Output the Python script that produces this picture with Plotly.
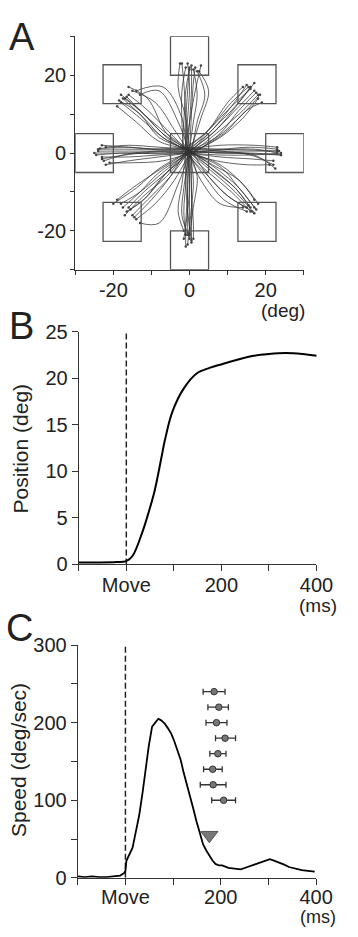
import plotly.graph_objects as go

# ---------------- Panel A data (deg) ----------------
target_x = [0, 0, 17.7, 25, 17.7, 0, -17.7, -25, -17.7]
target_y = [0, 25, 17.7, 0, -17.7, -25, -17.7, 0, 17.7]
target_half = 5

traj_up_x = [[-1, -1, -0.5, 0], [-0.5, 0, 0.5, 0.5], [0, 1, 2, 1], [0.5, 2, 4, 2], [-1.5, -2, -2, -1],
             [0, 3, 5, 2.5], [-0.5, -1, -1.5, -2], [0, 0.5, 1, 1.5], [-1, -0.5, 0, -0.5],
             [-2, -1.5, -1, 0], [-1, 0, 1.5, 3], [0, -1, -3, -2.5]]
traj_up_y = [[0, 8, 16, 22], [0.5, 8, 16, 22.5], [1, 8, 15, 21.5], [0, 8, 15, 21], [0.5, 8, 16, 22],
             [0, 9, 16, 21], [1, 10, 18, 23], [0, 10, 18, 22], [1.5, 9, 17, 23],
             [0, 8, 16, 21.5], [1, 8, 16, 22.5], [0.5, 9, 17, 23]]
traj_ur_x = [[0, 6, 12, 16], [0, 6, 12, 17], [0.5, 7, 13, 18], [-0.5, 5, 11, 15], [0, 8, 14, 18],
             [-1, 5, 10, 14], [0, 7, 13, 17], [0.5, 9, 15, 19], [-1, 4, 10, 16], [0, 6, 11, 15.5],
             [1, 8, 13, 17.5], [-0.5, 7, 14, 18.5]]
traj_ur_y = [[0, 6, 12, 17], [0.5, 5, 11, 16], [0, 5, 10, 15], [1, 5, 12, 17.5], [0, 4, 9, 14],
             [1, 6, 13, 17], [0.5, 6, 13, 18], [0, 5, 11, 13], [1.5, 5, 11, 16.5], [0.5, 7, 13, 17],
             [0, 5, 11, 15.5], [0.5, 4, 10, 15]]
traj_r_x = [[0, 8, 16, 23], [0, 8, 16, 24], [0, 8, 16, 23], [0, 8, 16, 22], [0, 8, 16, 24],
            [0, 7, 15, 21], [0, 8, 17, 23], [0, 8, 17, 22.5], [-1, 7, 15, 23.5], [0.5, 9, 17, 24],
            [-0.5, 8, 16, 22], [0, 8, 17, 23]]
traj_r_y = [[0.5, 0.5, 0.5, 0.5], [0, -0.5, -0.5, 0], [1, 1, 1.5, 1], [0, -1, -1.5, -2], [0.5, 0, 0, -0.5],
            [0, -2, -3, -3], [1, 2, 2, 1.5], [0, 0.2, -0.5, -4], [1.5, 1, 0.8, 0.5], [0.5, 0, -0.2, -0.5],
            [1, 0.5, -0.5, -3], [0, 0.8, 1, 0]]
traj_lr_x = [[0, 6, 12, 16], [0, 7, 13, 17], [0, 5, 11, 16], [0.5, 8, 14, 18], [-0.5, 4, 9, 15],
             [0, 6, 13, 17], [0, 5, 12, 17], [0, 3, 8, 14], [1, 7, 12, 15.5], [-1, 4, 10, 16.5],
             [0, 8, 13, 17.5], [0.5, 5, 10, 15]]
traj_lr_y = [[0, -4, -9, -14], [0.5, -4, -9, -14], [-0.5, -5, -10, -15], [0, -3, -8, -13], [0, -6, -12, -15],
             [0.5, -3, -7, -12], [0, -4, -10, -15.5], [-0.5, -7, -13, -14], [0, -5, -9, -13.5],
             [0, -5, -11, -15], [0, -3.5, -9, -14.5], [0.5, -6, -11, -14]]
traj_d_x = [[0, -0.5, -0.5, -0.5], [0, 0, 0, 0], [-0.5, -1, -1.5, -1], [0, 0.5, 0.5, 0.5], [-1, -2, -3, -1.5],
            [0, 2, 1, 0], [-0.5, -0.5, -1, -1], [0.5, 0.5, 1, 1], [-1, -1, -0.5, 0.5], [0, -1.5, -2, -0.5],
            [-0.5, 0, -0.5, -1.5], [0, 1, 0.5, -0.5]]
traj_d_y = [[0, -8, -16, -21], [0, -8, -16, -22], [0.5, -8, -15, -21], [0, -8, -16, -23], [0.5, -8, -15, -20],
            [0, -6, -14, -21], [1, -10, -18, -24], [0, -10, -18, -22], [0.5, -7, -15, -22.5],
            [0, -9, -16, -20.5], [0, -8, -15, -22], [0.5, -7, -14, -23.5]]
traj_ll_x = [[0, -6, -12, -16], [0, -7, -13, -18], [-0.5, -5, -11, -15], [0, -8, -14, -20], [0, -4, -9, -14],
             [0, -3, -8, -13], [-0.5, -6, -12, -17], [0, -9, -15, -19], [-1, -6, -11, -15.5],
             [0, -7, -12, -16.5], [-1, -5, -10, -14.5], [0, -8, -13, -17.5]]
traj_ll_y = [[0, -5, -10, -14], [0.5, -5, -10, -13], [0, -6, -12, -16], [0.5, -4, -9, -13], [0, -7, -13, -17],
             [0, -8, -18, -18], [0.5, -6, -11, -16], [0.5, -5, -9, -12], [0, -5, -11, -14.5],
             [0, -6, -12, -15], [0.5, -6, -12, -16.5], [0, -5, -10, -14]]
traj_l_x = [[0, -8, -16, -24], [0, -8, -16, -23], [0, -8, -16, -23], [0, -8, -16, -22], [0, -8, -16, -25],
            [0, -8, -17, -23], [0, -8, -16, -22], [0, -7, -15, -21], [-1, -9, -17, -24], [0, -8, -16, -22.5],
            [0.5, -8, -17, -24.5], [-0.5, -8, -16, -23.5]]
traj_l_y = [[0.5, 0.5, 0.5, 0.5], [0, -0.5, -1, -1], [1, 1, 1.5, 2], [0, -1, -2, -3], [0.5, 0, 0, 0],
            [0, 0.3, -0.5, -1.5], [1, 1.5, 2, 1.5], [0, -2, -2.5, -2.5], [1.5, 1, 1, 1], [0.5, 0.5, -0.2, -2],
            [0, -0.2, 0, -0.5], [1, 0.8, 1.5, 1.2]]
traj_ul_x = [[0, -6, -12, -17], [0, -7, -13, -18], [-0.5, -5, -11, -16], [0, -8, -14, -19], [0, -4, -9, -15],
             [0, -6, -11, -16], [-0.5, -7, -13, -18], [0, -3, -8, -13], [-1, -6, -12, -16.5],
             [0, -7, -12, -17.5], [-1, -2, -7, -14], [0, -8, -13, -18.5]]
traj_ul_y = [[0, 4, 10, 14], [0.5, 4, 9, 13], [0.5, 5, 11, 15], [1, 3, 8, 12], [0, 6, 13, 16],
             [0.5, 5, 14, 17], [1, 5, 11, 15], [0, 8, 16, 15], [1.5, 5, 10, 14.5], [0.5, 4, 9, 14],
             [0, 9, 17, 16], [1, 4, 10, 13.5]]

# ---------------- Panel B data ----------------
time_b = [-100, -60, -20, 0, 13, 34, 47, 60, 74, 81, 97, 121, 148, 175, 201, 235, 268, 300, 336, 370, 401]
pos_b = [0.2, 0.2, 0.25, 0.35, 0.9, 3.5, 5.6, 8, 11.5, 13.3, 16.4, 18.9, 20.5, 21.1, 21.5, 22.0, 22.4,
         22.6, 22.7, 22.6, 22.4]

# ---------------- Panel C data ----------------
time_c = [-100, -85, -70, -55, -40, -25, -11, -3, 0, 2, 8, 15, 22, 29, 36, 42, 49, 56, 62, 69,
          75, 82, 89, 96, 102, 109, 116, 122, 129, 136, 142, 149, 156, 163, 170, 176, 183, 189, 196, 203,
          216, 229, 242, 256, 266, 276, 290, 303, 313, 323, 333, 343, 356, 370, 383, 397]
speed_c = [2, 1, 2, 1, 1, 2, 3, 6, 9, 22, 30, 39, 60, 81, 110, 140, 170, 195, 200, 205,
           203, 199, 193, 186, 177, 165, 152, 136, 121, 106, 90, 73, 58, 43, 35, 29, 22, 18, 16, 16,
           13, 12, 11, 14, 16, 18, 21, 24, 22, 20, 17, 14, 12, 10, 9, 8]
eb_x = [186, 196, 191, 209, 194, 183, 184, 206]
eb_y = [240, 220, 200, 180, 160, 140, 120, 100]
eb_minus = [23, 23, 22, 20, 17, 19, 27, 25]
eb_plus = [23, 20, 22, 22, 17, 20, 27, 25]
tri_x = [176]
tri_y = [55]

move_x = [0, 0]
move_b_y = [0, 25]
move_c_y = [0, 300]

FONT = "Liberation Sans, Arial, sans-serif"
AX = "#333333"

fig = go.Figure()

# Panel A trajectories
all_x = [traj_up_x, traj_ur_x, traj_r_x, traj_lr_x, traj_d_x, traj_ll_x, traj_l_x, traj_ul_x]
all_y = [traj_up_y, traj_ur_y, traj_r_y, traj_lr_y, traj_d_y, traj_ll_y, traj_l_y, traj_ul_y]
for gx, gy in zip(all_x, all_y):
    for tx, ty in zip(gx, gy):
        fig.add_trace(go.Scatter(x=tx, y=ty, mode="lines", xaxis="x", yaxis="y",
                                 line=dict(color="rgba(50,50,50,0.75)", width=1.0, shape="spline"),
                                 showlegend=False, hoverinfo="skip"))
        fig.add_trace(go.Scatter(x=[tx[-1]], y=[ty[-1]], mode="markers", xaxis="x", yaxis="y",
                                 marker=dict(color="#444", size=2.5),
                                 showlegend=False, hoverinfo="skip"))

# Targets as squares
for cx, cy in zip(target_x, target_y):
    fig.add_shape(type="rect", xref="x", yref="y",
                  x0=cx - target_half, x1=cx + target_half,
                  y0=cy - target_half, y1=cy + target_half,
                  line=dict(color="#555", width=1.3), fillcolor="rgba(0,0,0,0)")

# Panel B
fig.add_trace(go.Scatter(x=move_x, y=move_b_y, mode="lines", xaxis="x2", yaxis="y2",
                         line=dict(color="#222", width=1.5, dash="6px,3px"), showlegend=False))
fig.add_trace(go.Scatter(x=time_b, y=pos_b, mode="lines", xaxis="x2", yaxis="y2",
                         line=dict(color="black", width=2, shape="spline"), showlegend=False))

# Panel C
fig.add_trace(go.Scatter(x=move_x, y=move_c_y, mode="lines", xaxis="x3", yaxis="y3",
                         line=dict(color="#222", width=1.5, dash="6px,3px"), showlegend=False))
fig.add_trace(go.Scatter(x=time_c, y=speed_c, mode="lines", xaxis="x3", yaxis="y3",
                         line=dict(color="black", width=1.8), showlegend=False))
fig.add_trace(go.Scatter(x=eb_x, y=eb_y, mode="markers", xaxis="x3", yaxis="y3",
                         marker=dict(color="#777", size=6.5, line=dict(color="#333", width=1)),
                         error_x=dict(type="data", array=eb_plus, arrayminus=eb_minus,
                                      color="#333", thickness=1.3, width=3),
                         showlegend=False))
fig.add_trace(go.Scatter(x=tri_x, y=tri_y, mode="markers", xaxis="x3", yaxis="y3",
                         marker=dict(symbol="triangle-down", color="#777", size=15,
                                     line=dict(color="#555", width=1)),
                         showlegend=False))

axis_common = dict(showline=True, linecolor=AX, linewidth=1.2, ticks="outside",
                   tickcolor=AX, tickwidth=1.2, showgrid=False, zeroline=False,
                   tickfont=dict(family=FONT, size=20, color="#222"), fixedrange=True)

fig.update_layout(
    width=358, height=937, margin=dict(l=0, r=0, t=0, b=0),
    paper_bgcolor="white", plot_bgcolor="white", showlegend=False,
    xaxis=dict(domain=[0.2207, 0.891], range=[-30, 30], anchor="y",
               tickvals=[-30, -20, -10, 0, 10, 20, 30], ticklabelstandoff=-2,
               ticktext=["", "-20", "", "0", "", "20", ""], ticklen=4, **axis_common),
    yaxis=dict(domain=[0.7172, 0.9723], range=[-30, 30], anchor="x",
               tickvals=[-30, -20, -10, 0, 10, 20, 30],
               ticktext=["", "-20", "", "0", "", "20", ""], ticklen=4, **axis_common),
    xaxis2=dict(domain=[0.231, 0.928], range=[-100, 400], anchor="y2",
                tickvals=[-100, 0, 100, 200, 300, 400], ticklabelstandoff=-3,
                ticktext=["", "Move", "", "200", "", "400"], ticklen=6, **axis_common),
    yaxis2=dict(domain=[0.3952, 0.6496], range=[0, 25], anchor="x2",
                tickvals=[0, 5, 10, 15, 20, 25], ticklen=6, **axis_common),
    xaxis3=dict(domain=[0.228, 0.927], range=[-100, 400], anchor="y3",
                tickvals=[-100, 0, 100, 200, 300, 400], ticklabelstandoff=-5,
                ticktext=["", "Move", "", "200", "", "400"], ticklen=6, **axis_common),
    yaxis3=dict(domain=[0.0526, 0.3070], range=[0, 300], anchor="x3",
                tickvals=[0, 50, 100, 150, 200, 250, 300],
                ticktext=["0", "", "100", "", "200", "", "300"], ticklen=6, **axis_common),
)

def ann(text, px, py, size, angle=0, xanchor="center"):
    fig.add_annotation(text=text, xref="paper", yref="paper", x=px / 358, y=1 - py / 937,
                       xanchor=xanchor, yanchor="middle", showarrow=False, textangle=angle,
                       font=dict(family=FONT, size=size, color="#222"))

ann("A", 23, 27, 38)
ann("B", 23, 323, 38)
ann("C", 20, 632, 38)
ann("(deg)", 297, 307, 19)
ann("(ms)", 334, 609, 19)
ann("(ms)", 334, 928, 18)
ann("Position (deg)", 21, 448, 21, angle=-90)
ann("Speed (deg/sec)", 20, 767, 21, angle=-90)

fig.write_html("out.html")
